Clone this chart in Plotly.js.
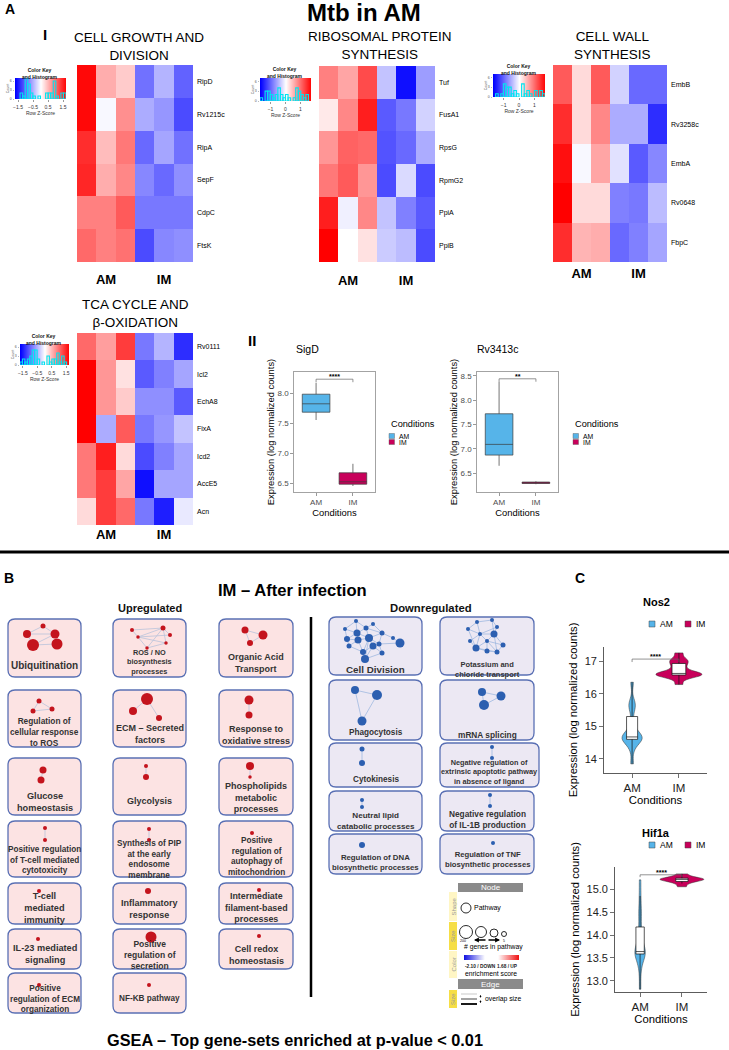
<!DOCTYPE html>
<html><head><meta charset="utf-8">
<script src="https://cdn.plot.ly/plotly-3.0.1.min.js"></script>
<style>html,body{margin:0;padding:0;background:#fff}</style>
</head><body><div id="chart" style="width:729px;height:1050px"></div>
<script>
// ================= DATA =================
const hmColumns = ['AM1','AM2','AM3','IM1','IM2','IM3'];
const groupTickCols = ['AM2','IM2'];
const groupNames = ['AM','IM'];

const growthGenes = ['RipD','Rv1215c','RipA','SepF','CdpC','FtsK'];
const growthZ = [
  [1.65, 0.55, 0.35, -0.95, -0.5, -1.05],
  [1.65, -0.05, 0.75, -0.55, -0.7, -1.2],
  [1.4, 0.45, 0.9, -1.0, -0.6, -0.95],
  [1.45, 0.55, 0.8, -0.8, -1.0, -0.75],
  [0.85, 0.85, 1.1, -0.9, -0.9, -0.9],
  [1.0, 0.85, 0.95, -1.2, -0.8, -0.75]];
const riboGenes = ['Tuf','FusA1','RpsG','RpmG2','PpiA','PpiB'];
const riboZ = [
  [0.85, 0.6, 1.2, -0.4, -1.6, -0.65],
  [0.15, 0.8, 1.5, -1.1, -0.9, -0.3],
  [0.7, 1.05, 1.0, -1.15, -1.0, -0.55],
  [0.9, 1.1, 0.7, -1.2, -0.25, -1.2],
  [1.5, -0.1, 0.8, -0.4, -0.85, -1.1],
  [1.7, 0.0, 0.2, -0.35, -0.45, -1.2]];
const wallGenes = ['EmbB','Rv3258c','EmbA','Rv0648','FbpC'];
const wallZ = [
  [1.1, 0.25, 1.1, -0.3, -1.0, -1.0],
  [1.4, 0.25, 0.8, -0.55, -0.55, -1.4],
  [1.6, -0.05, 0.6, -0.2, -1.1, -0.8],
  [1.7, 0.25, 0.25, -0.85, -0.9, -0.45],
  [1.4, 0.5, 0.55, -1.0, -0.85, -0.6]];
const tcaGenes = ['Rv0111','Icl2','EchA8','FixA','Icd2','AccE5','Acn'];
const tcaZ = [
  [1.0, 0.65, 1.3, -0.9, -0.5, -1.4],
  [1.7, 0.7, 0.2, -1.1, -0.85, -0.6],
  [1.7, 0.7, 0.35, -0.75, -0.75, -1.1],
  [1.7, -0.55, 1.1, -0.9, -0.7, -0.4],
  [0.9, 1.5, 0.25, -1.2, -0.85, -0.6],
  [0.9, 1.3, 0.6, -1.6, -0.6, -0.6],
  [0.25, 1.3, 1.0, -0.9, -1.5, -0.15]];

const conditions = ['AM','IM'];
// box statistics [AM, IM]
const sigdLower  = [7.55, 6.45];
const sigdQ1     = [7.68, 6.48];
const sigdMedian = [7.82, 6.52];
const sigdQ3     = [7.98, 6.67];
const sigdUpper  = [8.17, 6.82];
const rvLower  = [6.65, 6.27];
const rvQ1     = [6.87, 6.285];
const rvMedian = [7.09, 6.30];
const rvQ3     = [7.72, 6.315];
const rvUpper  = [8.38, 6.33];

// violin samples (log normalized counts)
const nos2AM = [13.85, 14.3, 14.5, 14.58, 14.62, 14.63, 14.65, 14.67, 14.68, 14.75, 14.9, 15.1, 15.5, 15.65, 15.75, 16.35];
const nos2IM = [16.28, 16.5, 16.55, 16.58, 16.6, 16.6, 16.62, 16.65, 16.8, 16.9, 17.0, 17.05, 17.25];
const hif1aAM = [12.82, 13.2, 13.45, 13.55, 13.6, 13.61, 13.62, 13.63, 13.64, 13.7, 13.85, 14.0, 14.1, 14.4, 14.55, 14.85, 15.2];
const hif1aIM = [15.05, 15.12, 15.16, 15.18, 15.2, 15.21, 15.22, 15.23, 15.24, 15.28, 15.33];
const significance = ['****', '**', '****', '****'];

// GSEA gene sets
const upregulatedCol1 = ['Ubiquitination','Regulation of<br>cellular response<br>to ROS','Glucose<br>homeostasis','Positive regulation<br>of T-cell mediated<br>cytotoxicity','T-cell<br>mediated<br>immunity','IL-23 mediated<br>signaling','Positive<br>regulation of ECM<br>organization'];
const upregulatedCol2 = ['ROS / NO<br>biosynthesis<br>processes','ECM – Secreted<br>factors','Glycolysis','Synthesis of PIP<br>at the early<br>endosome<br>membrane','Inflammatory<br>response','Positive<br>regulation of<br>secretion','NF-KB pathway'];
const upregulatedCol3 = ['Organic Acid<br>Transport','Response to<br>oxidative stress','Phospholipids<br>metabolic<br>processes','Positive<br>regulation of<br>autophagy of<br>mitochondrion','Intermediate<br>filament-based<br>processes','Cell redox<br>homeostasis'];
const downregulatedCol1 = ['Cell Division','Phagocytosis','Cytokinesis','Neutral lipid<br>catabolic processes','Regulation of DNA<br>biosynthetic processes'];
const downregulatedCol2 = ['Potassium and<br>chloride transport','mRNA splicing','Negative regulation of<br>extrinsic apoptotic pathway<br>in absence of ligand','Negative regulation<br>of IL-1B production','Regulation of TNF<br>biosynthetic processes'];

// ================= STYLE / LAYOUT CONFIG =================
const W = 729, H = 1050;
const FONT = 'Arial, "Liberation Sans", Helvetica, sans-serif';
const AMC = '#56B4E9', IMC = '#C8005A';
const RED = '#C4141D', BLUE = '#2C5FB0';
const redBlue = [[0,'#0000FF'],[0.5,'#FFFFFF'],[1,'#FF0000']];
const Z_LIM = 1.7, KEY_COUNT_MAX = 7;
const dx = (a,b)=>[a/W, b/W];
const dy = (t,b)=>[1-b/H, 1-t/H];

const data = [];
const shapes = [];
const ann = [];
const layout = {
  width: W, height: H, autosize:false, margin:{l:0,r:0,t:0,b:0},
  paper_bgcolor:'#fff', plot_bgcolor:'rgba(0,0,0,0)', showlegend:false,
  font:{family:FONT, color:'#000', size:10}, hovermode:false
};
// overlay pixel axes (panel B drawing + labels)
layout.xaxis9 = {domain:[0,1], range:[0,W], visible:false, anchor:'y9', fixedrange:true};
layout.yaxis9 = {domain:[0,1], range:[H,0], visible:false, anchor:'x9', fixedrange:true};

function txt(x, y, text, size, opts){
  ann.push(Object.assign({xref:'x9', yref:'y9', x:x, y:y, text:text, showarrow:false,
    font:{size:size, color:'#000', family:FONT}, xanchor:'center', yanchor:'middle'}, opts||{}));
}
function rect(x0,y0,x1,y1,fill,lineColor,lw,layer){
  shapes.push({type:'rect', xref:'x9', yref:'y9', x0:x0,y0:y0,x1:x1,y1:y1, fillcolor:fill,
    line:{color:lineColor||'rgba(0,0,0,0)', width:lw||0}, layer:layer||'above'});
}
function rrect(x0,y0,x1,y1,r,fill,lineColor){
  const p = `M${x0+r},${y0} L${x1-r},${y0} Q${x1},${y0} ${x1},${y0+r} L${x1},${y1-r} Q${x1},${y1} ${x1-r},${y1} L${x0+r},${y1} Q${x0},${y1} ${x0},${y1-r} L${x0},${y0+r} Q${x0},${y0} ${x0+r},${y0} Z`;
  shapes.push({type:'path', xref:'x9', yref:'y9', path:p, fillcolor:fill, line:{color:lineColor, width:1.3}, layer:'below'});
}

// ---------- Panel A I : heatmaps + colour keys with histogram ----------
const hmPanels = [
  {ax:'',  hax:'10', genes:growthGenes, z:growthZ, x:[77,193],  y:[65,262],  key:{x:15,y:78,w:51,h:21},  ticks:[-1.5,-0.5,0.5,1.5], standoff:8, title:'CELL GROWTH AND<br>DIVISION', tx:139, ty:46.5, kx:40, ky:73},
  {ax:'2', hax:'11', genes:riboGenes,   z:riboZ,   x:[319,435], y:[66,262],  key:{x:260,y:78,w:51,h:23}, ticks:[-1,0,1], standoff:9, title:'RIBOSOMAL PROTEIN<br>SYNTHESIS', tx:380, ty:45.5, kx:285, ky:72},
  {ax:'3', hax:'12', genes:wallGenes,   z:wallZ,   x:[553,667], y:[65,262],  key:{x:493,y:74,w:52,h:23}, ticks:[-1,0,1], standoff:2, title:'CELL WALL<br>SYNTHESIS', tx:612, ty:45.5, kx:519, ky:69.5},
  {ax:'4', hax:'13', genes:tcaGenes,    z:tcaZ,    x:[77,193],  y:[333,525], key:{x:20,y:344,w:49,h:21}, ticks:[-1.5,-0.5,0.5,1.5], standoff:6.5, title:'TCA CYCLE AND<br>β-OXIDATION', tx:135, ty:313.5, kx:44, ky:339}
];
hmPanels.forEach(p=>{
  data.push({type:'heatmap', x:hmColumns, y:p.genes, z:p.z, xaxis:'x'+p.ax, yaxis:'y'+p.ax,
    colorscale:redBlue, zmin:-Z_LIM, zmax:Z_LIM, showscale:false});
  layout['xaxis'+p.ax] = {domain:dx(p.x[0],p.x[1]), anchor:'y'+p.ax, type:'category',
    tickvals:groupTickCols, ticktext:groupNames, ticks:'', showgrid:false, zeroline:false, showline:false,
    tickfont:{size:13, weight:700, color:'#000'}, ticklabelstandoff:p.standoff, fixedrange:true};
  layout['yaxis'+p.ax] = {domain:dy(p.y[0],p.y[1]), anchor:'x'+p.ax, type:'category', autorange:'reversed',
    side:'right', ticks:'', showgrid:false, zeroline:false, showline:false,
    tickfont:{size:7, color:'#000'}, ticklabelstandoff:3, fixedrange:true};
  // colour key: smooth gradient over the z-score scale (heatmap layer), histogram of the z-scores on top
  data.push({type:'heatmap', x:[-Z_LIM, Z_LIM], y:[0, KEY_COUNT_MAX], z:[[-Z_LIM, Z_LIM],[-Z_LIM, Z_LIM]],
    zsmooth:'best', colorscale:redBlue, zmin:-Z_LIM, zmax:Z_LIM, showscale:false,
    xaxis:'x'+p.hax, yaxis:'y'+p.hax, hoverinfo:'skip'});
  data.push({type:'histogram', x:p.z.flat(), xaxis:'x'+p.hax, yaxis:'y'+p.hax,
    xbins:{start:-Z_LIM, end:Z_LIM, size:0.17}, marker:{color:'rgba(0,0,0,0)', line:{color:'#00E5F0', width:1.1}}});
  layout['xaxis'+p.hax] = {domain:dx(p.key.x, p.key.x+p.key.w), anchor:'y'+p.hax, range:[-Z_LIM, Z_LIM], fixedrange:true,
    showgrid:false, zeroline:false, showline:false, tickvals:p.ticks, ticks:'outside', ticklen:2, tickwidth:0.5,
    tickcolor:'#333', tickfont:{size:5, color:'#333'}, ticklabelstandoff:1,
    title:{text:'Row Z-Score', font:{size:5, color:'#333'}, standoff:1}};
  layout['yaxis'+p.hax] = {domain:dy(p.key.y, p.key.y+p.key.h), anchor:'x'+p.hax, range:[0,KEY_COUNT_MAX], fixedrange:true,
    showgrid:false, zeroline:false, showline:false, ticks:'outside', ticklen:1.5,
    tickwidth:0.4, tickcolor:'#555', tickvals:[0,3,6], tickfont:{size:3.5, color:'#555'}, title:{text:'Count', font:{size:3.5, color:'#555'}, standoff:0}};
  txt(p.tx, p.ty, p.title, 13.5);
  txt(p.kx, p.ky, 'Color Key<br>and Histogram', 5, {font:{size:5, weight:700, color:'#111', family:FONT}});
});

// ---------- Panel A II : box plots ----------
const boxPanels = [
  {ax:'5', name:'SigD', x:[294,375], y:[372,492], range:[6.35,8.35], ticks:[6.5,7,7.5,8],
   lo:sigdLower, q1:sigdQ1, med:sigdMedian, q3:sigdQ3, hi:sigdUpper, br:8.23, drop:0.05, sig:significance[0], tx:307, lx:389},
  {ax:'6', name:'Rv3413c', x:[477,558], y:[372,492], range:[6.11,8.58], ticks:[6.5,7,7.5,8,8.5],
   lo:rvLower, q1:rvQ1, med:rvMedian, q3:rvQ3, hi:rvUpper, br:8.44, drop:0.06, sig:significance[1], tx:497, lx:573}
];
boxPanels.forEach(p=>{
  conditions.forEach((c,i)=>{
    data.push({type:'box', x:[c], lowerfence:[p.lo[i]], q1:[p.q1[i]], median:[p.med[i]], q3:[p.q3[i]], upperfence:[p.hi[i]],
      xaxis:'x'+p.ax, yaxis:'y'+p.ax, fillcolor:i?IMC:AMC, line:{color:'#3a3a3a', width:0.7},
      width:0.75, whiskerwidth:0, boxpoints:false, name:c});
  });
  layout['xaxis'+p.ax] = {domain:dx(p.x[0],p.x[1]), anchor:'y'+p.ax, type:'category',
    categoryorder:'array', categoryarray:conditions, range:[-0.6,1.6], showline:true, mirror:true,
    linecolor:'#8c8c8c', linewidth:0.8, ticks:'outside', ticklen:3, tickwidth:0.6, tickcolor:'#555',
    tickfont:{size:8, color:'#4d4d4d'}, showgrid:false, zeroline:false, fixedrange:true,
    title:{text:'Conditions', font:{size:9.4, color:'#000'}, standoff:1}};
  layout['yaxis'+p.ax] = {domain:dy(p.y[0],p.y[1]), anchor:'x'+p.ax, range:p.range, tickvals:p.ticks,
    tickformat:'.1f', showline:true, mirror:true, linecolor:'#8c8c8c', linewidth:0.8, ticks:'outside',
    ticklen:3, tickwidth:0.6, tickcolor:'#555', tickfont:{size:8, color:'#4d4d4d'}, showgrid:false,
    zeroline:false, fixedrange:true,
    title:{text:'Expression (log normalized counts)', font:{size:9.4, color:'#000'}, standoff:1}};
  const xr='x'+p.ax, yr='y'+p.ax, lc={color:'#666', width:0.7};
  shapes.push({type:'line', xref:xr, yref:yr, x0:0, x1:1, y0:p.br, y1:p.br, line:lc});
  shapes.push({type:'line', xref:xr, yref:yr, x0:0, x1:0, y0:p.br, y1:p.br-p.drop, line:lc});
  shapes.push({type:'line', xref:xr, yref:yr, x0:1, x1:1, y0:p.br, y1:p.br-p.drop, line:lc});
  ann.push({xref:xr, yref:yr, x:0.5, y:p.br, text:p.sig, showarrow:false, yanchor:'bottom', yshift:-3,
    font:{size:7, color:'#000', weight:700}});
  txt(p.tx, 349, p.name, 10.5);
  // legend
  txt(p.lx, 424, 'Conditions', 9.2, {xanchor:'left'});
  rect(p.lx, 433.5, p.lx+5.5, 438.5, AMC, '#555', 0.4);
  rect(p.lx, 439.5, p.lx+5.5, 444.5, IMC, '#555', 0.4);
  txt(p.lx+8, 436, 'AM', 6.8, {xanchor:'left'});
  txt(p.lx+8, 442, 'IM', 6.8, {xanchor:'left'});
});

// ---------- Panel C : violins ----------
const violinPanels = [
  {ax:'7', name:'Nos2', x:[604,707], y:[647,773], range:[13.57,17.43], ticks:[14,15,16,17], fmt:'d',
   am:nos2AM, im:nos2IM, wAM:0.43, wIM:0.98, bwAM:0.17, bwIM:0.09, bxAM:0.55, bxIM:0.3,
   br:17.06, drop:0.09, sig:significance[2], ty:602, ly:624},
  {ax:'8', name:'Hif1a', x:[615,707], y:[867,992], range:[12.76,15.48], ticks:[13,13.5,14,14.5,15], fmt:'.1f',
   am:hif1aAM, im:hif1aIM, wAM:0.25, wIM:1.05, bwAM:0.17, bwIM:0.035, bxAM:0.8, bxIM:0.28,
   br:15.31, drop:0.05, sig:significance[3], ty:833, ly:845}
];
violinPanels.forEach(p=>{
  [[ 'AM', p.am, AMC, p.wAM, p.bwAM, p.bxAM ], ['IM', p.im, IMC, p.wIM, p.bwIM, p.bxIM]].forEach(v=>{
    data.push({type:'violin', x0:v[0], y:v[1], name:v[0], xaxis:'x'+p.ax, yaxis:'y'+p.ax,
      fillcolor:v[2], opacity:1, line:{color:'#333', width:0.5}, width:v[3], bandwidth:v[4],
      spanmode:'hard', points:false, meanline:{visible:false},
      box:{visible:true, width:v[5], fillcolor:'#ffffff', line:{color:'#111', width:0.7}}});
  });
  layout['xaxis'+p.ax] = {domain:dx(p.x[0],p.x[1]), anchor:'y'+p.ax, type:'category',
    categoryorder:'array', categoryarray:conditions, range:[-0.6,1.6], showline:true, linecolor:'#333',
    linewidth:0.8, ticks:'outside', ticklen:4, tickwidth:0.7, tickcolor:'#333',
    tickfont:{size:11.5, color:'#222'}, showgrid:false, zeroline:false, fixedrange:true,
    title:{text:'Conditions', font:{size:11.3, color:'#000'}, standoff:0}};
  layout['yaxis'+p.ax] = {domain:dy(p.y[0],p.y[1]), anchor:'x'+p.ax, range:p.range, tickvals:p.ticks,
    tickformat:p.fmt, showline:true, linecolor:'#333', linewidth:0.8, ticks:'outside', ticklen:4,
    tickwidth:0.7, tickcolor:'#333', tickfont:{size:11, color:'#222'}, showgrid:false, zeroline:false,
    fixedrange:true, title:{text:'Expression (log normalized counts)', font:{size:11.2, color:'#000'}, standoff:4}};
  const xr='x'+p.ax, yr='y'+p.ax, lc={color:'#666', width:0.7};
  shapes.push({type:'line', xref:xr, yref:yr, x0:0, x1:1, y0:p.br, y1:p.br, line:lc});
  shapes.push({type:'line', xref:xr, yref:yr, x0:0, x1:0, y0:p.br, y1:p.br-p.drop, line:lc});
  shapes.push({type:'line', xref:xr, yref:yr, x0:1, x1:1, y0:p.br, y1:p.br-p.drop, line:lc});
  ann.push({xref:xr, yref:yr, x:0.5, y:p.br, text:p.sig, showarrow:false, yanchor:'bottom', yshift:-3,
    font:{size:7, color:'#000', weight:700}});
  txt(656, p.ty, p.name, 11, {font:{size:11, weight:700, color:'#000', family:FONT}});
  rect(649, p.ly-3, 655, p.ly+3, AMC, '#444', 0.5);
  rect(685, p.ly-3, 691, p.ly+3, IMC, '#444', 0.5);
  txt(658, p.ly, 'AM', 8.5, {xanchor:'left'});
  txt(694, p.ly, 'IM', 8.5, {xanchor:'left'});
});

// ---------- Panel B : GSEA network boxes ----------
const upColX = [[8,81],[113,186],[219,293]];
const upRows = [[619,677],[690,747],[758,815],[821,877],[883,924],[929,969],[973,1013]];
const upTextY = [[665,732,801.5,860,908,953.5,999],[662,734,801,859,908.5,955,998],[662.5,734.5,797,856,907,954.5]];
const upTextSize = [[10,8.3,9.2,8.2,9.2,9.2,8.2],[7.3,9,9,8.2,9,8.5,8.2],[9,9,9,8.2,8.9,9]];
const downColX = [[329,422],[440,534]];
const downRows = [[617,675],[680,740],[743,787],[791,831],[834,874]];
const downTextY = [[669,732,779,821,862.5],[669.5,735,772,819,859.5]];
const downTextSize = [[9.8,8.2,8.2,8.1,7.8],[7.5,8.3,7.3,8.3,7.7]];

// node layout inside each box: [dx, dy, diameter]
const upNets = [
  [ {n:[[35,7,5],[19,15,8],[47,15,9],[25,26,12],[49,25,11]], e:[[0,1],[0,2],[1,2],[1,3],[2,4],[3,4],[2,3]]},
    {n:[[31,11,5],[25,21,5],[44,19,5]], e:[[0,1],[0,2],[1,2]]},
    {n:[[35,12,7],[33,22,7]], e:[[0,1]]},
    {n:[[37,7,4],[37,19,4]], e:[[0,1]]},
    {n:[[31,8,4]], e:[]},
    {n:[[30,10,4]], e:[]},
    {n:[[31,12,4]], e:[]} ],
  [ {n:[[19,11,4],[50,9,5],[57,16,4],[25,18,3.5],[53,24,3.5],[34,29,3.5]], e:[[0,1],[3,1],[3,2],[3,4],[3,5],[5,4],[1,2],[5,1],[0,3],[1,4]]},
    {n:[[34,9,12],[20,21,8],[46,28,6]], e:[[0,1],[0,2]]},
    {n:[[33,8,4],[33,19,6]], e:[[0,1]]},
    {n:[[36,8,4],[36,19,4]], e:[[0,1]]},
    {n:[[35,8,6]], e:[]},
    {n:[[38,8,11]], e:[]},
    {n:[[36,12,4]], e:[]} ],
  [ {n:[[26,11,7],[44,16,9],[31,24,6]], e:[[0,1],[0,2],[1,2]]},
    {n:[[30,10,9],[30,25,7]], e:[[0,1]]},
    {n:[[31,8,8],[31,19,3.5]], e:[[0,1]]},
    {n:[[33,12,4]], e:[]},
    {n:[[40,7,4]], e:[]},
    {n:[[40,7,4]], e:[]} ]
];
const downNets = [
  [ {n:[[27,4,4],[44,7,4],[16,12,4],[37,11,5],[28,16,7],[53,16,5],[40,21,8],[64,21,4],[71,26,9],[18,22,6],[29,23,7],[20,29,5],[44,29,7],[50,27,5],[34,35,6],[53,36,5],[36,42,8]],
     e:[[0,3],[0,4],[0,2],[1,3],[1,5],[2,4],[2,9],[3,4],[3,6],[4,6],[4,10],[4,9],[5,6],[5,7],[5,13],[6,10],[6,12],[6,13],[6,14],[7,8],[9,10],[9,11],[10,11],[10,14],[11,14],[12,13],[12,14],[12,16],[13,15],[14,16],[15,16],[12,15],[6,16],[3,5],[8,13]]},
    {n:[[26,10,8],[48,15,10],[33,41,9]], e:[[0,1],[0,2],[1,2]]},
    {n:[[33,6,5],[33,20,6]], e:[[0,1]]},
    {n:[[33,9,4],[33,16,4]], e:[[0,1]]},
    {n:[[33,11,6]], e:[]} ],
  [ {n:[[37,5,4],[52,3,4],[57,10,4],[28,12,4],[40,17,4],[54,17,7],[47,24,4],[63,28,5],[36,31,7],[47,34,5],[57,35,5],[30,24,4]],
     e:[[0,1],[0,4],[1,2],[1,5],[2,5],[3,4],[4,5],[4,6],[4,8],[5,6],[5,7],[5,10],[6,8],[6,9],[6,10],[7,10],[8,9],[9,10],[3,8],[0,3],[11,8],[11,4],[2,4],[6,7],[8,10]]},
    {n:[[42,12,8],[61,16,9],[44,25,10]], e:[[0,1],[0,2],[1,2]]},
    {n:[[52,4,4],[52,15,4]], e:[[0,1]]},
    {n:[[50,4,4],[50,15,4]], e:[[0,1]]},
    {n:[[53,9,4]], e:[]} ]
];

function drawSets(cols, colX, rows, textY, textSize, nets, fill, nodeColor, edgeColor, wideBox){
  const ex=[], ey=[], nx=[], ny=[], ns=[];
  cols.forEach((labels, ci)=>{
    labels.forEach((lab, ri)=>{
      let x0=colX[ci][0], x1=colX[ci][1];
      if (wideBox && wideBox[0]===ci && wideBox[1]===ri) x1 = wideBox[2];
      const y0=rows[ri][0], y1=rows[ri][1];
      rrect(x0, y0, x1, y1, 7, fill, '#5A70B4');
      txt((colX[ci][0]+x1)/2, textY[ci][ri], lab, textSize[ci][ri], {font:{size:textSize[ci][ri], weight:700, color:'#333', family:FONT}});
      const net = nets[ci][ri];
      net.e.forEach(([a,b])=>{
        ex.push(x0+net.n[a][0], x0+net.n[b][0], null);
        ey.push(y0+net.n[a][1], y0+net.n[b][1], null);
      });
      net.n.forEach(nd=>{ nx.push(x0+nd[0]); ny.push(y0+nd[1]); ns.push(nd[2]); });
    });
  });
  data.push({type:'scatter', mode:'lines', x:ex, y:ey, xaxis:'x9', yaxis:'y9', line:{color:edgeColor, width:0.8}, hoverinfo:'skip'});
  data.push({type:'scatter', mode:'markers', x:nx, y:ny, xaxis:'x9', yaxis:'y9', marker:{color:nodeColor, opacity:1, size:ns, line:{width:0}}, hoverinfo:'skip'});
}
drawSets([upregulatedCol1, upregulatedCol2, upregulatedCol3], upColX, upRows, upTextY, upTextSize, upNets, '#FCE3E3', RED, '#B9C3DA', null);
drawSets([downregulatedCol1, downregulatedCol2], downColX, downRows, downTextY, downTextSize, downNets, '#ECE8F3', BLUE, '#9FB9E0', [1,2,539]);

// ---------- Panel B legend (Cytoscape style) ----------
rect(458, 883, 523, 892, '#8a8a8a');
txt(490.5, 887.5, 'Node', 8, {font:{size:8, color:'#fff', family:FONT}});
rect(449, 892, 457, 921, '#FFF6C4');
rect(449, 922, 457, 950, '#F6DE45');
rect(449, 951, 457, 978, '#FFF6C4');
rect(458, 979, 523, 989, '#8a8a8a');
txt(490.5, 984, 'Edge', 8, {font:{size:8, color:'#fff', family:FONT}});
rect(449, 990, 457, 1008, '#F6DE45');
txt(453, 906.5, 'Shape', 6, {textangle:-90, font:{size:6, color:'#9a9a9a', family:FONT}});
txt(453, 936, 'Size', 6, {textangle:-90, font:{size:6, color:'#9a9a9a', family:FONT}});
txt(453, 964.5, 'Color', 6, {textangle:-90, font:{size:6, color:'#9a9a9a', family:FONT}});
txt(453, 999, 'Size', 6, {textangle:-90, font:{size:6, color:'#9a9a9a', family:FONT}});
shapes.push({type:'circle', xref:'x9', yref:'y9', x0:461, x1:471, y0:903, y1:913, line:{color:'#111', width:0.9}});
txt(472, 908, 'Pathway', 7, {xanchor:'left'});
[[466,932,6.5],[481,932,5.5],[494,933,4],[504,934,2.5]].forEach(c=>{
  shapes.push({type:'circle', xref:'x9', yref:'y9', x0:c[0]-c[2], x1:c[0]+c[2], y0:c[1]-c[2], y1:c[1]+c[2], line:{color:'#111', width:0.9}});
});
ann.push({xref:'x9', yref:'y9', x:474, y:940, ax:487, ay:940, axref:'x9', ayref:'y9', text:'', showarrow:true, arrowhead:2, arrowsize:0.7, arrowwidth:1.4, arrowcolor:'#000'});
ann.push({xref:'x9', yref:'y9', x:500, y:940, ax:487, ay:940, axref:'x9', ayref:'y9', text:'', showarrow:true, arrowhead:2, arrowsize:0.7, arrowwidth:1.4, arrowcolor:'#000'});
txt(463, 940.5, '200', 3.5);
txt(504, 940.5, '5', 3.5);
txt(493, 947, '# genes in pathway', 6.8);
data.push({type:'scatter', mode:'lines', x:[464,519,519,464,464], y:[955,955,960,960,955], xaxis:'x9', yaxis:'y9',
  fill:'toself', line:{width:0}, fillgradient:{type:'horizontal', colorscale:[[0,'#1010E0'],[0.38,'#ffffff'],[0.62,'#ffffff'],[1,'#F01010']]}, hoverinfo:'skip'});
txt(463, 966, '-2.10 / DOWN', 4.8, {xanchor:'left', font:{size:4.8, weight:700, color:'#222', family:FONT}});
txt(520, 966, '1.68 / UP', 4.8, {xanchor:'right', font:{size:4.8, weight:700, color:'#222', family:FONT}});
txt(491, 973, 'enrichment score', 6.8);
shapes.push({type:'line', xref:'x9', yref:'y9', x0:461, x1:477, y0:994, y1:994, line:{color:'#bbb', width:0.8}});
shapes.push({type:'line', xref:'x9', yref:'y9', x0:461, x1:477, y0:999, y1:999, line:{color:'#666', width:1.2}});
shapes.push({type:'line', xref:'x9', yref:'y9', x0:461, x1:477, y0:1004, y1:1004, line:{color:'#000', width:1.8}});
ann.push({xref:'x9', yref:'y9', x:480.5, y:995, ax:480.5, ay:999, axref:'x9', ayref:'y9', text:'', showarrow:true, arrowhead:2, arrowsize:0.5, arrowwidth:0.8, arrowcolor:'#000'});
ann.push({xref:'x9', yref:'y9', x:480.5, y:1003, ax:480.5, ay:999, axref:'x9', ayref:'y9', text:'', showarrow:true, arrowhead:2, arrowsize:0.5, arrowwidth:0.8, arrowcolor:'#000'});
txt(483, 999, 'overlap size', 6.8, {xanchor:'left'});

// ---------- titles, panel letters, dividers ----------
txt(364, 12, 'Mtb in AM', 24, {font:{size:24, weight:700, color:'#000', family:FONT}});
txt(3, 9, 'A', 14, {xanchor:'left', font:{size:14, weight:700, color:'#000', family:FONT}});
txt(45, 34, 'I', 15, {font:{size:15, weight:700, color:'#000', family:FONT}});
txt(252, 340, 'II', 15, {font:{size:15, weight:700, color:'#000', family:FONT}});
txt(2, 578, 'B', 14, {xanchor:'left', font:{size:14, weight:700, color:'#000', family:FONT}});
txt(580, 578, 'C', 14, {font:{size:14, weight:700, color:'#000', family:FONT}});
txt(292, 590, 'IM – After infection', 16.6, {font:{size:16.6, weight:700, color:'#000', family:FONT}});
txt(150, 608, 'Upregulated', 11, {font:{size:11, weight:700, color:'#111', family:FONT}});
txt(431, 608, 'Downregulated', 11.3, {font:{size:11.3, weight:700, color:'#111', family:FONT}});
txt(295, 1040, 'GSEA – Top gene-sets enriched at p-value < 0.01', 16.3, {font:{size:16.3, weight:700, color:'#000', family:FONT}});
shapes.push({type:'line', xref:'x9', yref:'y9', x0:0, x1:W, y0:552, y1:552, line:{color:'#000', width:3}});
shapes.push({type:'line', xref:'x9', yref:'y9', x0:311, x1:311, y0:617, y1:997, line:{color:'#000', width:2.5}});

layout.shapes = shapes;
layout.annotations = ann;
Plotly.newPlot('chart', data, layout, {staticPlot:true, displayModeBar:false});
</script></body></html>
